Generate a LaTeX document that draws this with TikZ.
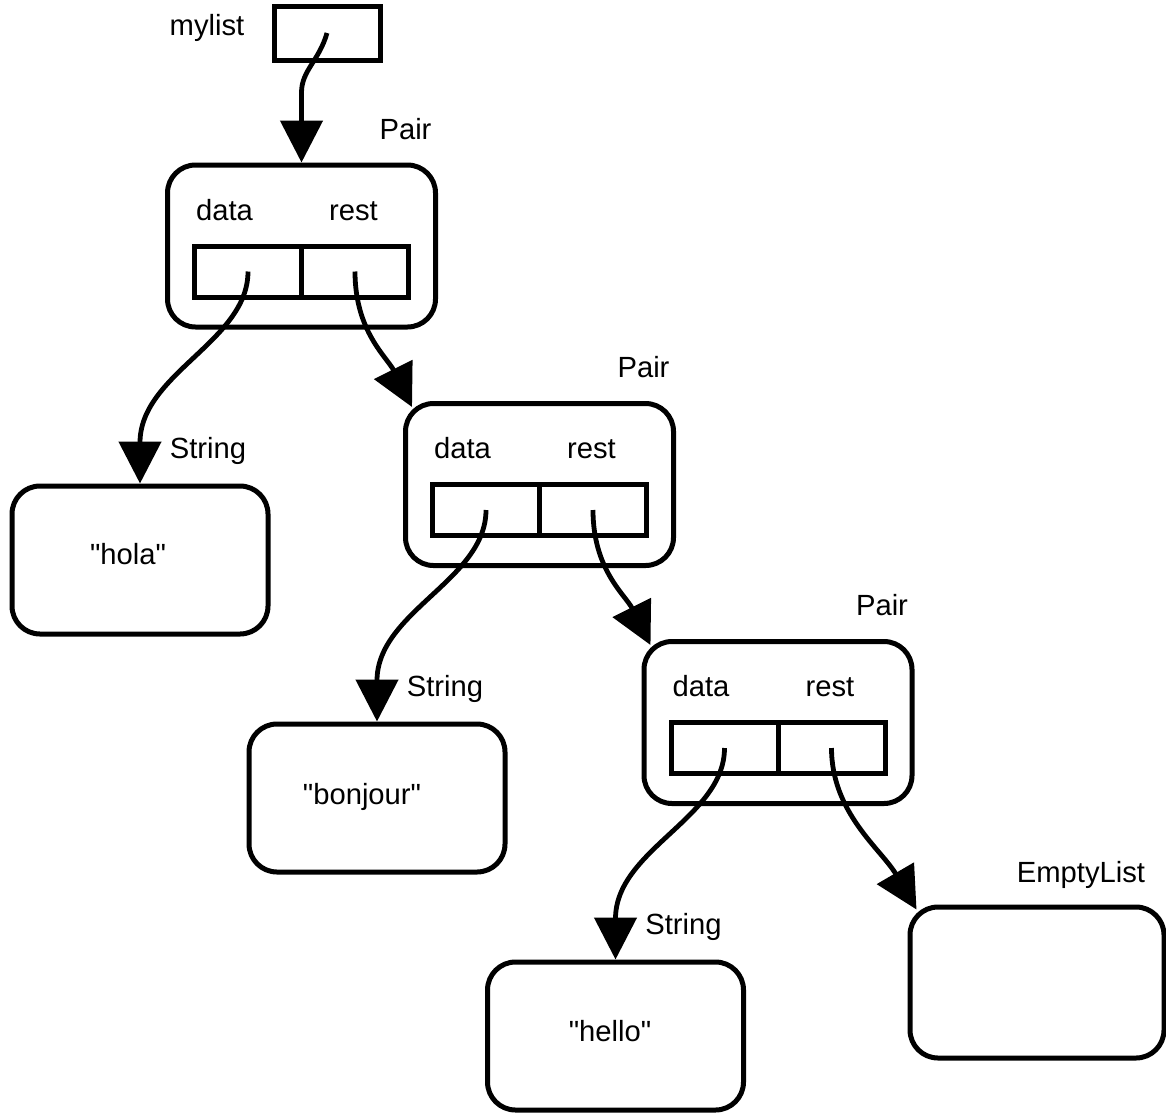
\documentclass[tikz,border=0pt]{standalone}
\usepackage{fontspec}
\setmainfont{Liberation Sans}
\usetikzlibrary{arrows.meta,calc}
\begin{document}
\begin{tikzpicture}[x=0.5pt,y=-0.5pt,
  every node/.style={font=\fontsize{14.6}{17}\selectfont},
  obj/.style={draw, line width=2.5pt, rounded corners=14pt, inner sep=0pt},
  pairbox/.style={obj, minimum width=134pt, minimum height=81pt},
  valbox/.style={obj, minimum width=128pt, minimum height=74pt},
  cell/.style={draw, line width=2.5pt, inner sep=0pt, minimum width=53.5pt, minimum height=25.5pt},
  varbox/.style={draw, line width=2.5pt, inner sep=0pt, minimum width=53pt, minimum height=27pt},
  lbl/.style={anchor=base, inner sep=0pt},
  ptr/.style={line width=2.4pt, -{Triangle[length=21pt,width=21pt]}},
]
\useasboundingbox (0,0) rectangle (1166,1114);

% variable
\node[varbox] (m) at (327,33) {};
\node[lbl] (ml) at (207,35) {mylist};

% pair cells
\node[pairbox] (p1) at (301.5,246) {};
\node[pairbox] (p2) at (539.5,484.5) {};
\node[pairbox] (p3) at (778,722.5) {};
\foreach \p in {1,2,3}{
  \node[cell] (d\p) at ($(p\p)+(-53.5,25.5)$) {};
  \node[cell] (r\p) at ($(p\p)+(53.5,25.5)$) {};
  \node[lbl] (dl\p) at ($(p\p)+(-77,-26)$) {data};
  \node[lbl] (rl\p) at ($(p\p)+(52,-26)$) {rest};
  \node[lbl] (pl\p) at ($(p\p)+(104,-107)$) {Pair};
}

% string values
\node[valbox] (s1) at (140,560) {};
\node[valbox] (s2) at (377,798) {};
\node[valbox] (s3) at (615.5,1036) {};
\node[lbl] (t1) at ($(s1)+(-12,4)$) {\textquotedbl hola\textquotedbl};
\node[lbl] (t2) at ($(s2)+(-15,6)$) {\textquotedbl bonjour\textquotedbl};
\node[lbl] (t3) at ($(s3)+(-5.5,5)$) {\textquotedbl hello\textquotedbl};
\foreach \s in {1,2,3}{
  \node[lbl] (sl\s) at ($(s\s)+(68,-102)$) {String};
}

% empty list
\node[obj, minimum width=127pt, minimum height=75.5pt] (e) at (1037,982.5) {};
\node[lbl] (el) at ($(e)+(44,-100.5)$) {EmptyList};

% references
\draw[ptr] (m.center) .. controls +(-8,28) and +(0,-22) .. ($(p1.north)+(0,-70)$) -- (p1.north);
\draw[ptr] (d1.center) .. controls +(0,70) and +(0,-110) .. (s1.north);
\draw[ptr] (d2.center) .. controls +(0,70) and +(0,-110) .. (s2.north);
\draw[ptr] (d3.center) .. controls +(0,70) and +(0,-110) .. (s3.north);
\draw[ptr] (r1.center) .. controls +(0,60) and +(-25,-50) .. ($(p2.north west)+(9,6)$);
\draw[ptr] (r2.center) .. controls +(0,60) and +(-25,-50) .. ($(p3.north west)+(9,6)$);
\draw[ptr] (r3.center) .. controls +(0,65) and +(-35,-60) .. ($(e.north west)+(9,5)$);
\end{tikzpicture}
\end{document}
